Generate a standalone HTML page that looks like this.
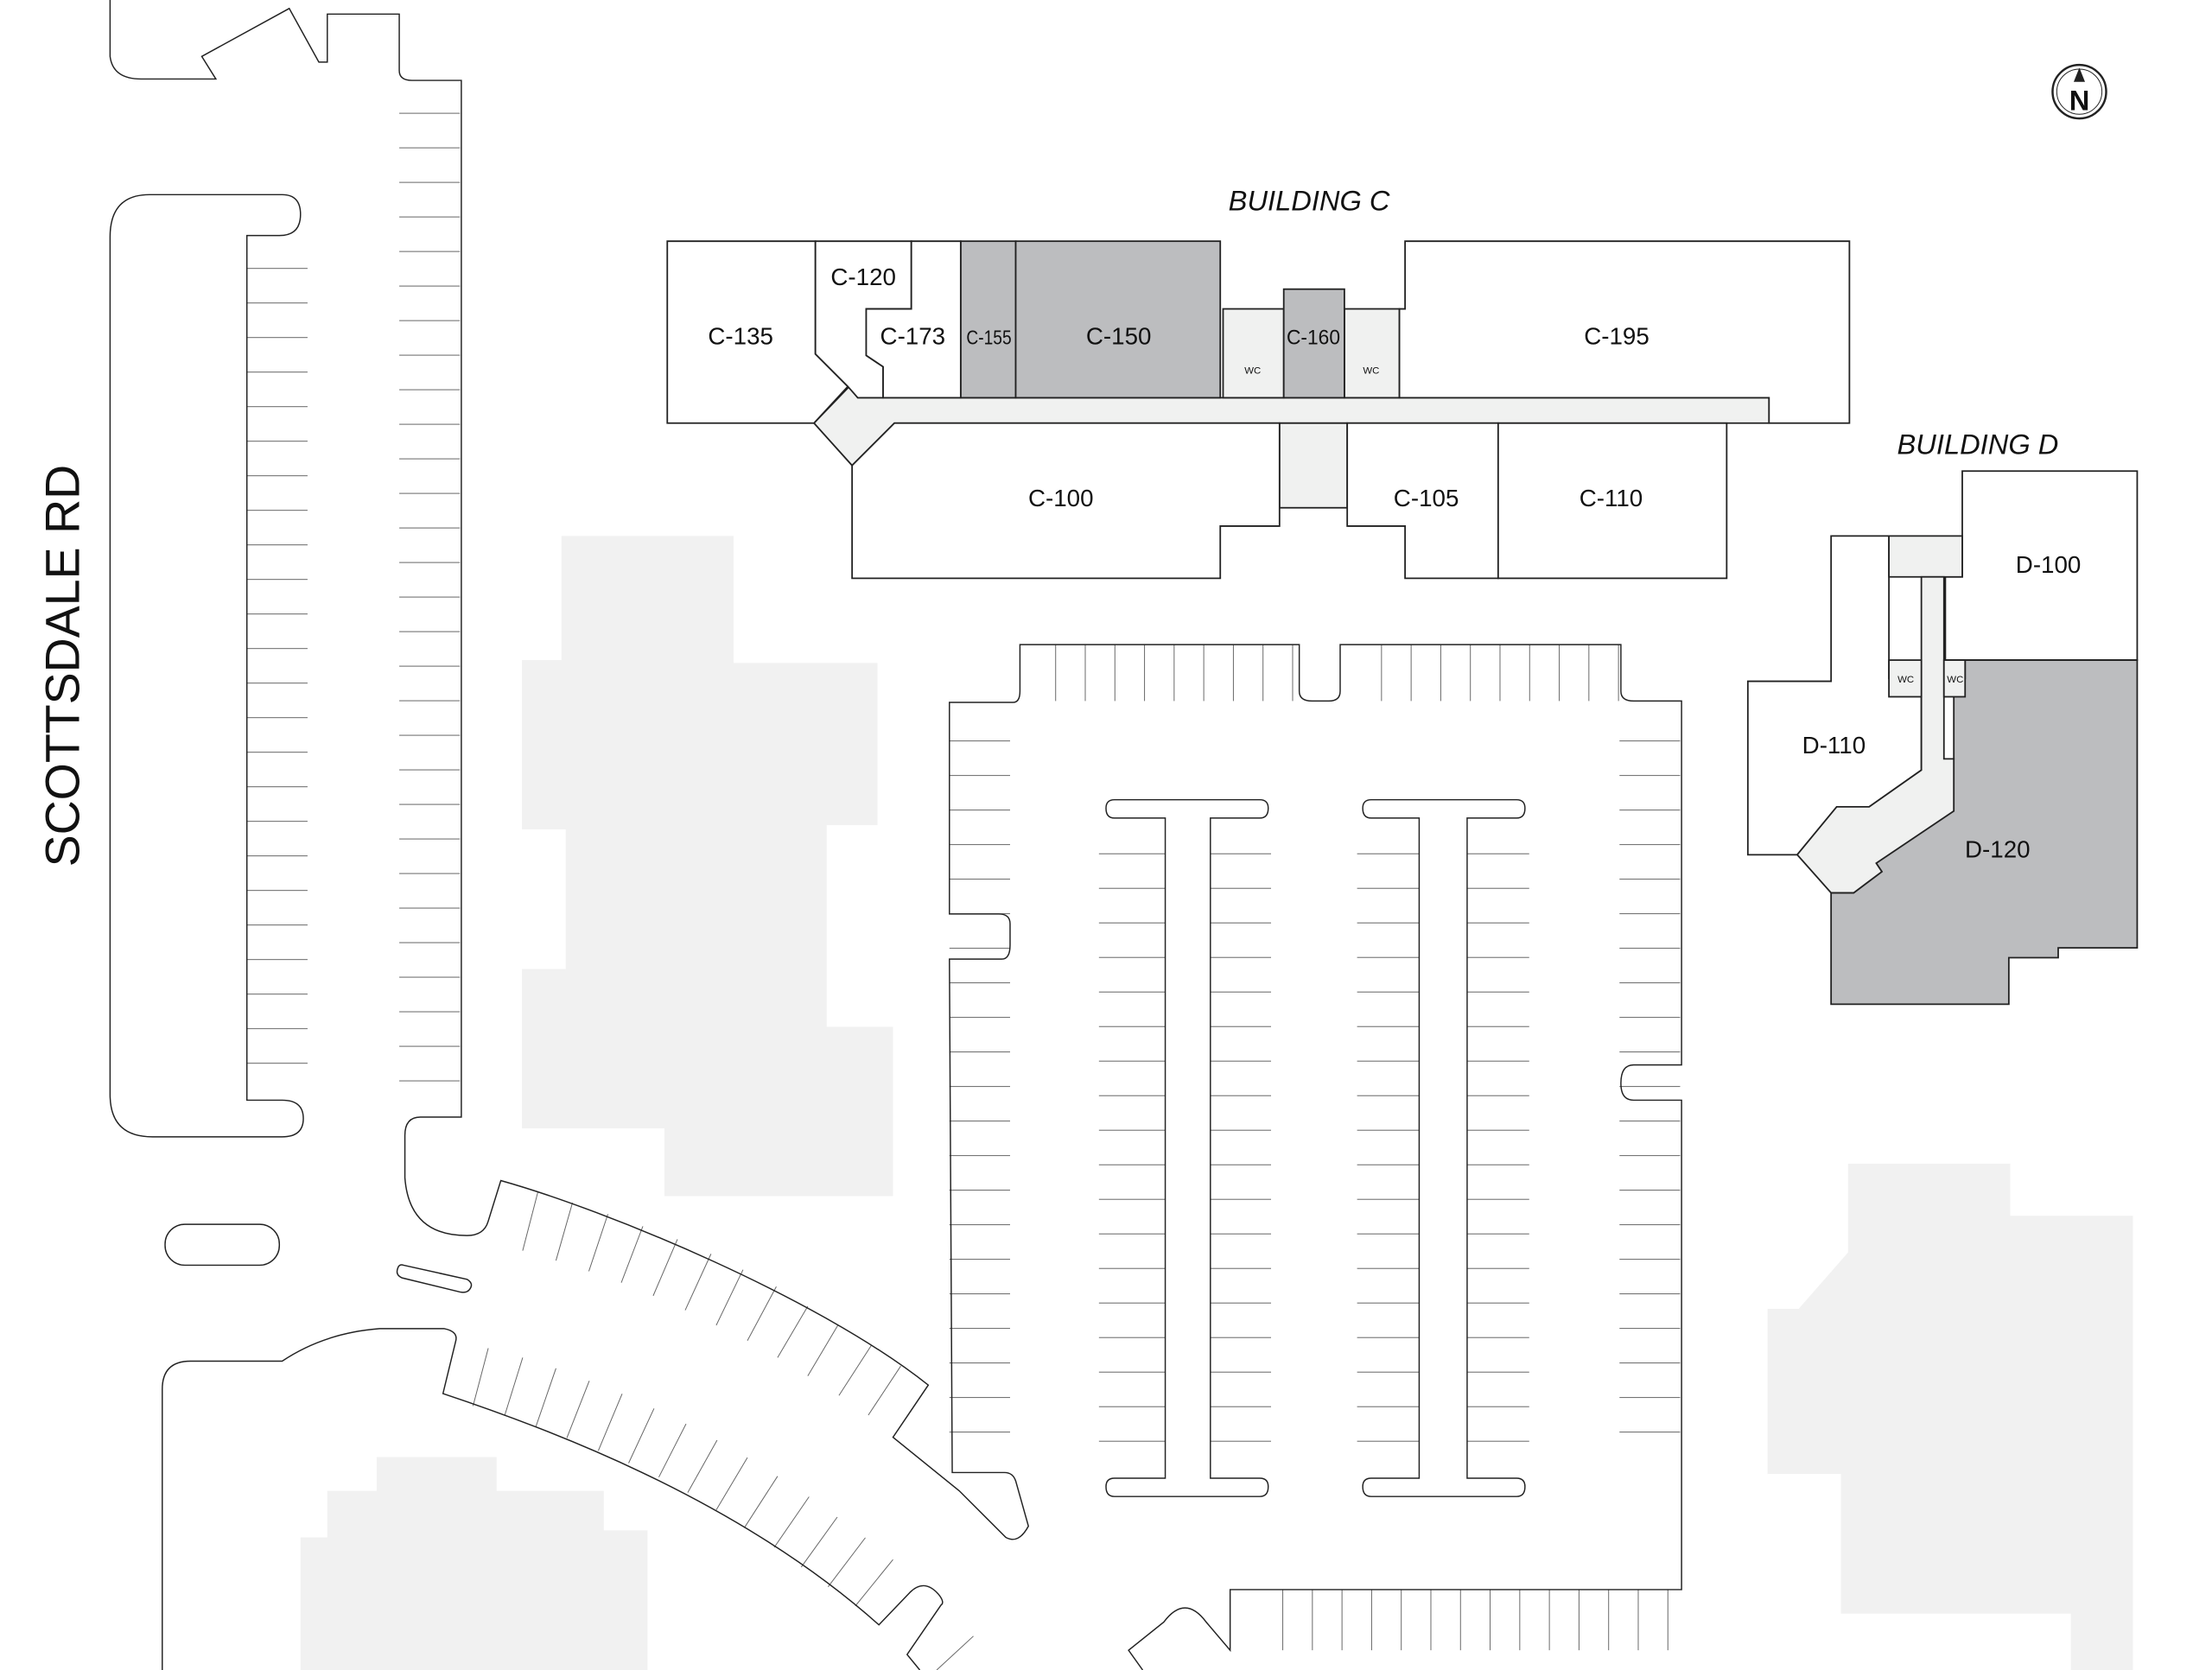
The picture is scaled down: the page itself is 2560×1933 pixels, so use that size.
<!DOCTYPE html>
<html><head><meta charset="utf-8"><style>html,body{margin:0;padding:0;background:#fff}svg{display:block}text{font-family:"Liberation Sans",sans-serif;fill:#111}</style></head>
<body>
<svg width="2560" height="1933" viewBox="0 0 1568 1184" xmlns="http://www.w3.org/2000/svg">
<defs>
<pattern id="p1" width="10" height="24.5" patternUnits="userSpaceOnUse" patternTransform="translate(0,6.5)"><line x1="0" y1="0.3" x2="10" y2="0.3" stroke="#666" stroke-width="0.6"/></pattern>
<pattern id="p2" width="10" height="24.5" patternUnits="userSpaceOnUse" patternTransform="translate(0,18.5)"><line x1="0" y1="0.3" x2="10" y2="0.3" stroke="#666" stroke-width="0.6"/></pattern>
<pattern id="p3" width="10" height="24.5" patternUnits="userSpaceOnUse" patternTransform="translate(0,10.5)"><line x1="0" y1="0.3" x2="10" y2="0.3" stroke="#666" stroke-width="0.6"/></pattern>
<pattern id="p4" width="10" height="24.5" patternUnits="userSpaceOnUse" patternTransform="translate(0,17)"><line x1="0" y1="0.3" x2="10" y2="0.3" stroke="#666" stroke-width="0.6"/></pattern>
<pattern id="v1" width="21" height="10" patternUnits="userSpaceOnUse" patternTransform="translate(13,0)"><line x1="0.3" y1="0" x2="0.3" y2="10" stroke="#666" stroke-width="0.6"/></pattern>
<pattern id="v2" width="21" height="10" patternUnits="userSpaceOnUse" patternTransform="translate(6,0)"><line x1="0.3" y1="0" x2="0.3" y2="10" stroke="#666" stroke-width="0.6"/></pattern>
</defs>
<rect width="1568" height="1184" fill="#fff"/>
<g fill="#f1f1f1">
<polygon points="398,380 520,380 520,470 622,470 622,585 586,585 586,728 633,728 633,848 471,848 471,800 370,800 370,687 401,687 401,588 370,588 370,468 398,468"/>
<polygon points="213,1090 232,1090 232,1057 267,1057 267,1033 352,1033 352,1057 428,1057 428,1085 459,1085 459,1184 213,1184"/>
<polygon points="1310,825 1425,825 1425,862 1512,862 1512,1184 1468,1184 1468,1144 1305,1144 1305,1045 1253,1045 1253,928 1275,928 1310,888"/>
</g>
<g>
<rect x="283" y="78" width="43" height="712" fill="url(#p1)"/>
<rect x="175" y="185" width="43" height="575" fill="url(#p2)"/>
<rect x="673" y="520" width="43" height="515" fill="url(#p3)"/>
<rect x="1148" y="520" width="43" height="515" fill="url(#p3)"/>
<rect x="779" y="600" width="47" height="440" fill="url(#p4)"/>
<rect x="858" y="600" width="43" height="440" fill="url(#p4)"/>
<rect x="962" y="600" width="44" height="440" fill="url(#p4)"/>
<rect x="1040" y="600" width="44" height="440" fill="url(#p4)"/>
<rect x="740" y="457" width="181" height="40" fill="url(#v1)"/>
<rect x="962" y="457" width="187" height="40" fill="url(#v1)"/>
<rect x="890" y="1127" width="300" height="43" fill="url(#v2)"/>
</g>
<g stroke="#666" stroke-width="0.6">
<line x1="381.3" y1="845" x2="370.5" y2="886.7"/><line x1="405.8" y1="852.7" x2="394.1" y2="893.7"/>
<line x1="430.9" y1="860.8" x2="417.4" y2="901.3"/><line x1="455.7" y1="869.4" x2="440.4" y2="909.4"/>
<line x1="480.2" y1="878.6" x2="463" y2="918.7"/><line x1="504" y1="889" x2="485.7" y2="928.9"/>
<line x1="526.7" y1="900.2" x2="507.7" y2="939.6"/><line x1="550.3" y1="912.2" x2="529.8" y2="950.5"/>
<line x1="572.6" y1="926.1" x2="551.2" y2="962.5"/><line x1="594.1" y1="939.3" x2="572.6" y2="975.5"/>
<line x1="617.6" y1="953.9" x2="594.7" y2="989.4"/><line x1="638.5" y1="968.5" x2="615.5" y2="1003.3"/>
<line x1="335.3" y1="996.8" x2="346.1" y2="955.8"/><line x1="357.7" y1="1003.7" x2="370.5" y2="962.5"/>
<line x1="379.7" y1="1011.9" x2="394.1" y2="970.1"/><line x1="401.8" y1="1019.5" x2="417.7" y2="979"/>
<line x1="424.1" y1="1028.5" x2="441" y2="988.2"/><line x1="445.6" y1="1037.3" x2="463.6" y2="998.6"/>
<line x1="467" y1="1047.3" x2="486.3" y2="1009.5"/><line x1="487.5" y1="1058.2" x2="508.3" y2="1021.1"/>
<line x1="507.7" y1="1070.5" x2="529.8" y2="1033.4"/><line x1="527.6" y1="1083.2" x2="551.2" y2="1046.6"/>
<line x1="548.8" y1="1097.1" x2="573.5" y2="1061.2"/><line x1="568" y1="1111" x2="593.5" y2="1075.6"/>
<line x1="587" y1="1125" x2="613.4" y2="1090.2"/><line x1="606.3" y1="1138.6" x2="633" y2="1105.7"/>
<line x1="664" y1="1184" x2="690" y2="1160"/>
</g>
<g fill="none" stroke="#222" stroke-width="0.9">
<path d="M78,0 L78,40 Q80,56 100,56 L153,56 L143,40 L205,6 L226,44 L232,44 L232,10 L283,10 L283,50 Q283,57 292,57 L327,57 L327,792 L298,792 Q287,792 287,805 L287,835 Q290,876 331,876 Q343,876 346,866 L355,837 C430,858 580,920 658,982 L633,1019 L680,1057 L713,1090 Q722,1095 729,1082 L720,1050 Q718,1044 712,1044 L675,1044 L673,680 L710,680 Q716,680 716,670 L716,655 Q716,648 708,648 L673,648 L673,498 L718,498 Q723,498 723,490 L723,457 L921,457 L921,490 Q921,497 930,497 L942,497 Q950,497 950,490 L950,457 L1149,457 L1149,490 Q1149,497 1158,497 L1192,497 L1192,755 L1158,755 Q1149,755 1149,768 Q1149,780 1158,780 L1192,780 L1192,1127 L872,1127 L872,1170 L855,1150 Q840,1130 825,1150 L800,1170 L810,1184"/>
<path d="M106,138 L200,138 Q213,138 213,152 Q213,167 198,167 L175,167 L175,780 L200,780 Q215,780 215,793 Q215,806 200,806 L108,806 Q78,806 78,776 L78,168 Q78,138 106,138 Z"/>
<rect x="117" y="868" width="81" height="29" rx="14"/>
<path d="M286,897 L331,907 Q336,910 333,914 Q331,917 326,916 L285,906 Q280,904 282,899 Q283,896 286,897 Z"/>
<path d="M115,1184 L115,985 Q115,965 135,965 L200,965 Q230,945 269,942 L315,942 Q325,944 323,951 L314,988 C380,1010 520,1060 623,1152 L645,1129 Q655,1119 665,1130 Q670,1136 667,1138 L643,1173 L652,1184"/>
<path d="M790,567 L893,567 Q899,567 899,573 Q899,580 893,580 L858,580 L858,1048 L893,1048 Q899,1048 899,1054 Q899,1061 893,1061 L790,1061 Q784,1061 784,1054 Q784,1048 790,1048 L826,1048 L826,580 L790,580 Q784,580 784,573 Q784,567 790,567 Z"/>
<path d="M972,567 L1075,567 Q1081,567 1081,573 Q1081,580 1075,580 L1040,580 L1040,1048 L1075,1048 Q1081,1048 1081,1054 Q1081,1061 1075,1061 L972,1061 Q966,1061 966,1054 Q966,1048 972,1048 L1006,1048 L1006,580 L972,580 Q966,580 966,573 Q966,567 972,567 Z"/>
</g>
<g stroke="#222" stroke-width="1.1">
<polygon points="577,300 602,274 608,282 1254,282 1254,300 907,300 634,300 604,330 577,300" fill="#f0f1f0"/>
<rect x="907" y="300" width="48" height="60" fill="#f0f1f0"/>
<rect x="867" y="219" width="43" height="63" fill="#f0f1f0"/>
<rect x="953" y="219" width="39" height="63" fill="#f0f1f0"/>
<rect x="681" y="171" width="39" height="111" fill="#bcbdbf"/>
<rect x="720" y="171" width="145" height="111" fill="#bcbdbf"/>
<rect x="910" y="205" width="43" height="77" fill="#bcbdbf"/>
<polygon points="473,171 578,171 578,251 601,274 577,300 473,300" fill="#fff"/>
<polygon points="578,171 646,171 646,219 614,219 614,252 626,260 626,282 608,282 601,274 578,251" fill="#fff"/>
<polygon points="646,171 681,171 681,282 626,282 626,260 614,252 614,219 646,219" fill="#fff"/>
<polygon points="996,171 1311,171 1311,300 1254,300 1254,282 992,282 992,219 996,219" fill="#fff"/>
<polygon points="604,330 634,300 907,300 907,373 865,373 865,410 604,410" fill="#fff"/>
<polygon points="955,300 1062,300 1062,410 996,410 996,373 955,373" fill="#fff"/>
<rect x="1062" y="300" width="162" height="110" fill="#fff"/>
</g>
<g stroke="#222" stroke-width="1.1">
<polygon points="1391,334 1515,334 1515,468 1379,468 1379,409 1391,409" fill="#fff"/>
<polygon points="1379,468 1515,468 1515,672 1459,672 1459,679 1424,679 1424,712 1298,712 1298,633 1314,633 1334,618 1330,612 1378,575 1378,538 1385,538 1385,481 1393,481 1393,468" fill="#bcbdbf"/>
<polygon points="1298,380 1339,380 1339,481 1362,481 1362,546 1325,572 1302,572 1274,606 1239,606 1239,483 1298,483" fill="#fff"/>
<polygon points="1339,380 1391,380 1391,409 1339,409" fill="#f0f1f0"/>
<polygon points="1362,409 1378,409 1378,538 1385,538 1385,575 1330,612 1334,618 1314,633 1298,633 1274,606 1302,572 1325,572 1362,546" fill="#f0f1f0"/>
<rect x="1339" y="468" width="23" height="26" fill="#f0f1f0"/>
<rect x="1378" y="468" width="15" height="26" fill="#f0f1f0"/>
</g>
<g font-size="17" text-anchor="middle">
<text x="525" y="244">C-135</text><text x="612" y="202">C-120</text><text x="647" y="244">C-173</text>
<text x="701" y="244" font-size="14" textLength="32" lengthAdjust="spacingAndGlyphs">C-155</text><text x="793" y="244">C-150</text><text x="931" y="244" font-size="15" textLength="38" lengthAdjust="spacingAndGlyphs">C-160</text>
<text x="1146" y="244">C-195</text><text x="752" y="359">C-100</text><text x="1011" y="359">C-105</text><text x="1142" y="359">C-110</text>
<text x="1452" y="406">D-100</text><text x="1300" y="534">D-110</text><text x="1416" y="608">D-120</text>
<text x="888" y="265" font-size="7">WC</text><text x="972" y="265" font-size="7">WC</text>
<text x="1351" y="484" font-size="7">WC</text><text x="1386" y="484" font-size="7">WC</text>
<text x="928" y="149" font-size="20" font-style="italic">BUILDING C</text>
<text x="1402" y="322" font-size="20" font-style="italic">BUILDING D</text>
</g>
<text x="0" y="0" font-size="34" text-anchor="middle" transform="translate(56,472) rotate(-90)">SCOTTSDALE RD</text>
<circle cx="1474" cy="65" r="19" fill="none" stroke="#222" stroke-width="1.5"/>
<circle cx="1474" cy="65" r="16" fill="none" stroke="#222" stroke-width="0.6"/>
<polygon points="1474,48 1478,58 1470,58" fill="#222"/>
<text x="1474" y="78" font-size="20" text-anchor="middle" font-weight="bold">N</text>
</svg>
</body></html>
